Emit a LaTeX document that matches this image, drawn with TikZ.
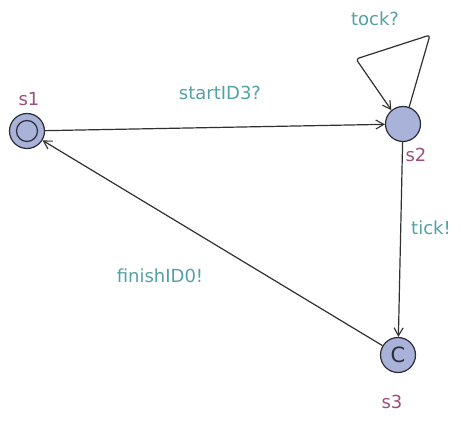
\documentclass[tikz,border=0pt]{standalone}
\usepackage{fontspec}
\setmainfont{DejaVu Sans}
\usetikzlibrary{arrows.meta}
\definecolor{statefill}{HTML}{A9B2D8}
\definecolor{stateline}{HTML}{2A2C38}
\definecolor{namecol}{HTML}{9C4F7C}
\definecolor{labelcol}{HTML}{52A0A8}
\definecolor{edgecol}{HTML}{303030}
\tikzset{
  x=1pt, y=-1pt,
  loc/.style={circle, draw=stateline, line width=1.2pt, fill=statefill,
    minimum size=35pt, inner sep=0pt},
  locname/.style={text=namecol, font=\fontsize{18}{20}\selectfont, inner sep=0pt},
  synclabel/.style={text=labelcol, font=\fontsize{18}{20}\selectfont, inner sep=0pt},
  edge/.style={draw=edgecol, line width=1.2pt, line join=round,
    -{Straight Barb[length=8pt,width=9pt,line width=1.1pt]}}
}
\begin{document}
\begin{tikzpicture}
\useasboundingbox (0,0) rectangle (461,422);

% locations
\node[loc] (s1) at (27,131) {};
\draw[stateline, line width=1.2pt] (s1.center) circle (10.5pt);
\node[loc, font=\fontsize{21}{22}\selectfont, text=stateline] (s3) at (398,355) {C};
\node[loc] (s2) at (403,124) {};

% location names
\node[locname] (n1) at (29,99) {s1};
\node[locname] (n2) at (416,155) {s2};
\node[locname] (n3) at (392,402) {s3};

% transitions
\draw[edge] (s1) -- (s2);
\draw[edge] (s2) -- (s3);
\draw[edge] (s3) -- (s1);

% self-loop on s2
\coordinate (c1) at (430,35);
\coordinate (c2) at (356,59);
\draw[edge, rounded corners=3pt] (s2.70) -- (c1) -- (c2) -- (s2.130);

% synchronisation labels
\node[synclabel] (l1) at (220,93) {startID3?};
\node[synclabel] (l2) at (375,19) {tock?};
\node[synclabel] (l3) at (431,228) {tick!};
\node[synclabel] (l4) at (160,276) {finishID0!};
\end{tikzpicture}
\end{document}
